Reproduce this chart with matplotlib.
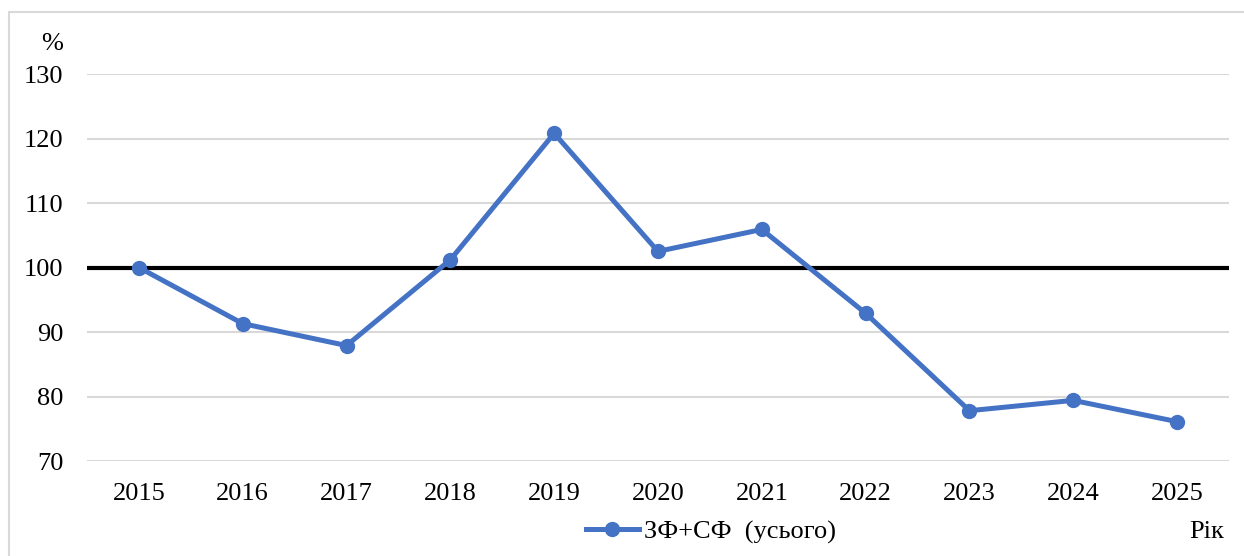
import matplotlib.pyplot as plt
from matplotlib.patches import Rectangle
from matplotlib.lines import Line2D

years = ['2015', '2016', '2017', '2018', '2019', '2020', '2021', '2022', '2023', '2024', '2025']
values = [100.0, 91.3, 87.9, 101.2, 120.8, 102.5, 105.9, 92.9, 77.8, 79.4, 76.1]
baseline = 100
series_name = 'ЗФ+СФ  (усього)'

plt.rcParams['font.family'] = ['Liberation Serif', 'DejaVu Serif']

fig = plt.figure(figsize=(12.44, 5.56), dpi=100)
# light grey frame round the chart
fig.patches.append(Rectangle((9 / 1244, -0.01), 1.02, (556 - 12) / 556 + 0.01,
                             transform=fig.transFigure, fill=False,
                             edgecolor='#d9d9d9', linewidth=1.5))

ax = fig.add_axes([87 / 1244, 95 / 556, (1229 - 87) / 1244, (461 - 74) / 556])
x = list(range(len(years)))
ax.plot(x, values, color='#4472c4', linewidth=3.6, marker='o', markersize=10, zorder=3)
ax.axhline(baseline, color='black', linewidth=3, zorder=2)

ax.set_xlim(-0.5, len(years) - 0.5)
ax.set_ylim(70, 130)
ax.set_yticks(range(70, 131, 10))
ax.set_xticks(x)
ax.set_xticklabels(years)
ax.yaxis.grid(True, color='#d9d9d9', linewidth=1.5)
ax.set_axisbelow(True)
for s in ax.spines.values():
    s.set_visible(False)
ax.tick_params(length=0, labelsize=19, colors='black')
ax.tick_params(axis='y', pad=17)
ax.tick_params(axis='x', pad=16)

fig.text(52 / 1244, 1 - 44 / 556, '%', fontsize=19, ha='center', va='center')
fig.text(1224 / 1244, 1 - 532 / 556, 'Рік', fontsize=19, ha='right', va='center')

handle = Line2D([], [], color='#4472c4', linewidth=3.6, marker='o', markersize=10)
fig.legend([handle], [series_name], loc='center', bbox_to_anchor=(711 / 1244, 1 - 532 / 556),
           frameon=False, fontsize=19, handlelength=2.0, handletextpad=0.2)

fig.savefig('out.png', dpi=100)
